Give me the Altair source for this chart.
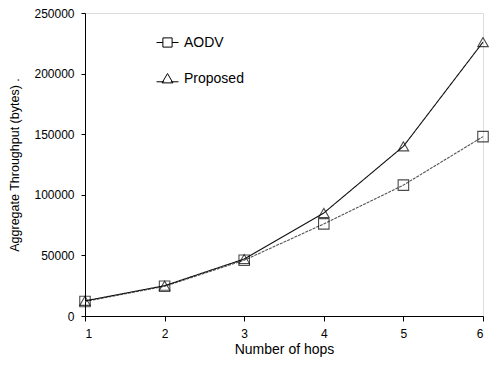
import altair as alt
import pandas as pd

hops = [1, 2, 3, 4, 5, 6]
aodv = [12000, 24500, 46000, 76000, 108000, 148000]
proposed = [12500, 25000, 47000, 85000, 140000, 226000]
series_names = ["AODV", "Proposed"]
y_ticks = [0, 50000, 100000, 150000, 200000, 250000]

rows = []
for h, a, p in zip(hops, aodv, proposed):
    rows.append({"hops": h, "value": a, "series": "AODV", "leg": "AODV"})
    rows.append({"hops": h, "value": p, "series": "Proposed", "leg": "Proposed"})
df = pd.DataFrame(rows)

FONT = "Liberation Sans"

x_enc = alt.X("hops:Q", scale=alt.Scale(domain=[1, 6], nice=False),
              axis=alt.Axis(values=hops, title="Number of hops", format="d",
                            grid=False, tickSize=5, labelPadding=7,
                            titlePadding=3, domainColor="black", tickColor="black",
                            labelFontSize=12, titleFontSize=14, labelFont=FONT,
                            titleFont=FONT, titleFontWeight="normal",
                            labelColor="black", titleColor="black"))
y_enc = alt.Y("value:Q", scale=alt.Scale(domain=[0, 250000], nice=False),
              axis=alt.Axis(values=y_ticks, title="Aggregate Throughput (bytes) .",
                            grid=False, tickSize=4, labelPadding=7, format="d",
                            titlePadding=12, domainColor="black", tickColor="black",
                            labelFontSize=12, titleFontSize=12.5, labelFont=FONT,
                            titleFont=FONT, titleFontWeight="normal",
                            labelColor="black", titleColor="black"))

sq_path = "M-1,0H-0.42M0.42,0H1M-0.42,-0.42H0.42V0.42H-0.42Z"
tri_path = "M-1,0.3H-0.3M0.3,0.3H1M0,-0.45L0.5,0.4H-0.5Z"

lines = alt.Chart(df).mark_line(strokeWidth=1.1).encode(
    x=x_enc, y=y_enc,
    color=alt.Color("series:N", scale=alt.Scale(domain=series_names, range=["#555555", "#111111"]), legend=None),
    strokeDash=alt.StrokeDash("series:N", scale=alt.Scale(domain=series_names, range=[[3, 1], [1, 0]]), legend=None),
)

points = alt.Chart(df).mark_point(filled=False, strokeWidth=1.1, size=110, color="black").encode(
    x=x_enc, y=y_enc,
    shape=alt.Shape("series:N", scale=alt.Scale(domain=series_names, range=["square", "triangle-up"]),
                    legend=None),
)

legend_layer = alt.Chart(df).mark_point(filled=False, strokeWidth=1, size=480, color="black", opacity=0).encode(
    x=x_enc, y=y_enc,
    shape=alt.Shape("leg:N", scale=alt.Scale(domain=series_names, range=[sq_path, tri_path]),
                    legend=alt.Legend(
                        title=None, orient="none", legendX=71, legendY=18,
                        labelFontSize=14, labelFont=FONT, labelColor="black",
                        rowPadding=17, symbolSize=480, labelOffset=5,
                        symbolStrokeColor="black", symbolStrokeWidth=1,
                        symbolFillColor="transparent", symbolOpacity=1)),
)

chart = alt.layer(lines, points, legend_layer).resolve_scale(shape="independent").properties(
    width=398, height=303,
    autosize=alt.AutoSizeParams(type="none"),
    padding={"left": 77, "top": 5, "right": 6, "bottom": 41},
).configure_view(stroke="#777777", strokeDash=[1, 1], strokeWidth=1).configure(background="white")

chart.save("out.html", embed_options={"renderer": "svg", "actions": False})
